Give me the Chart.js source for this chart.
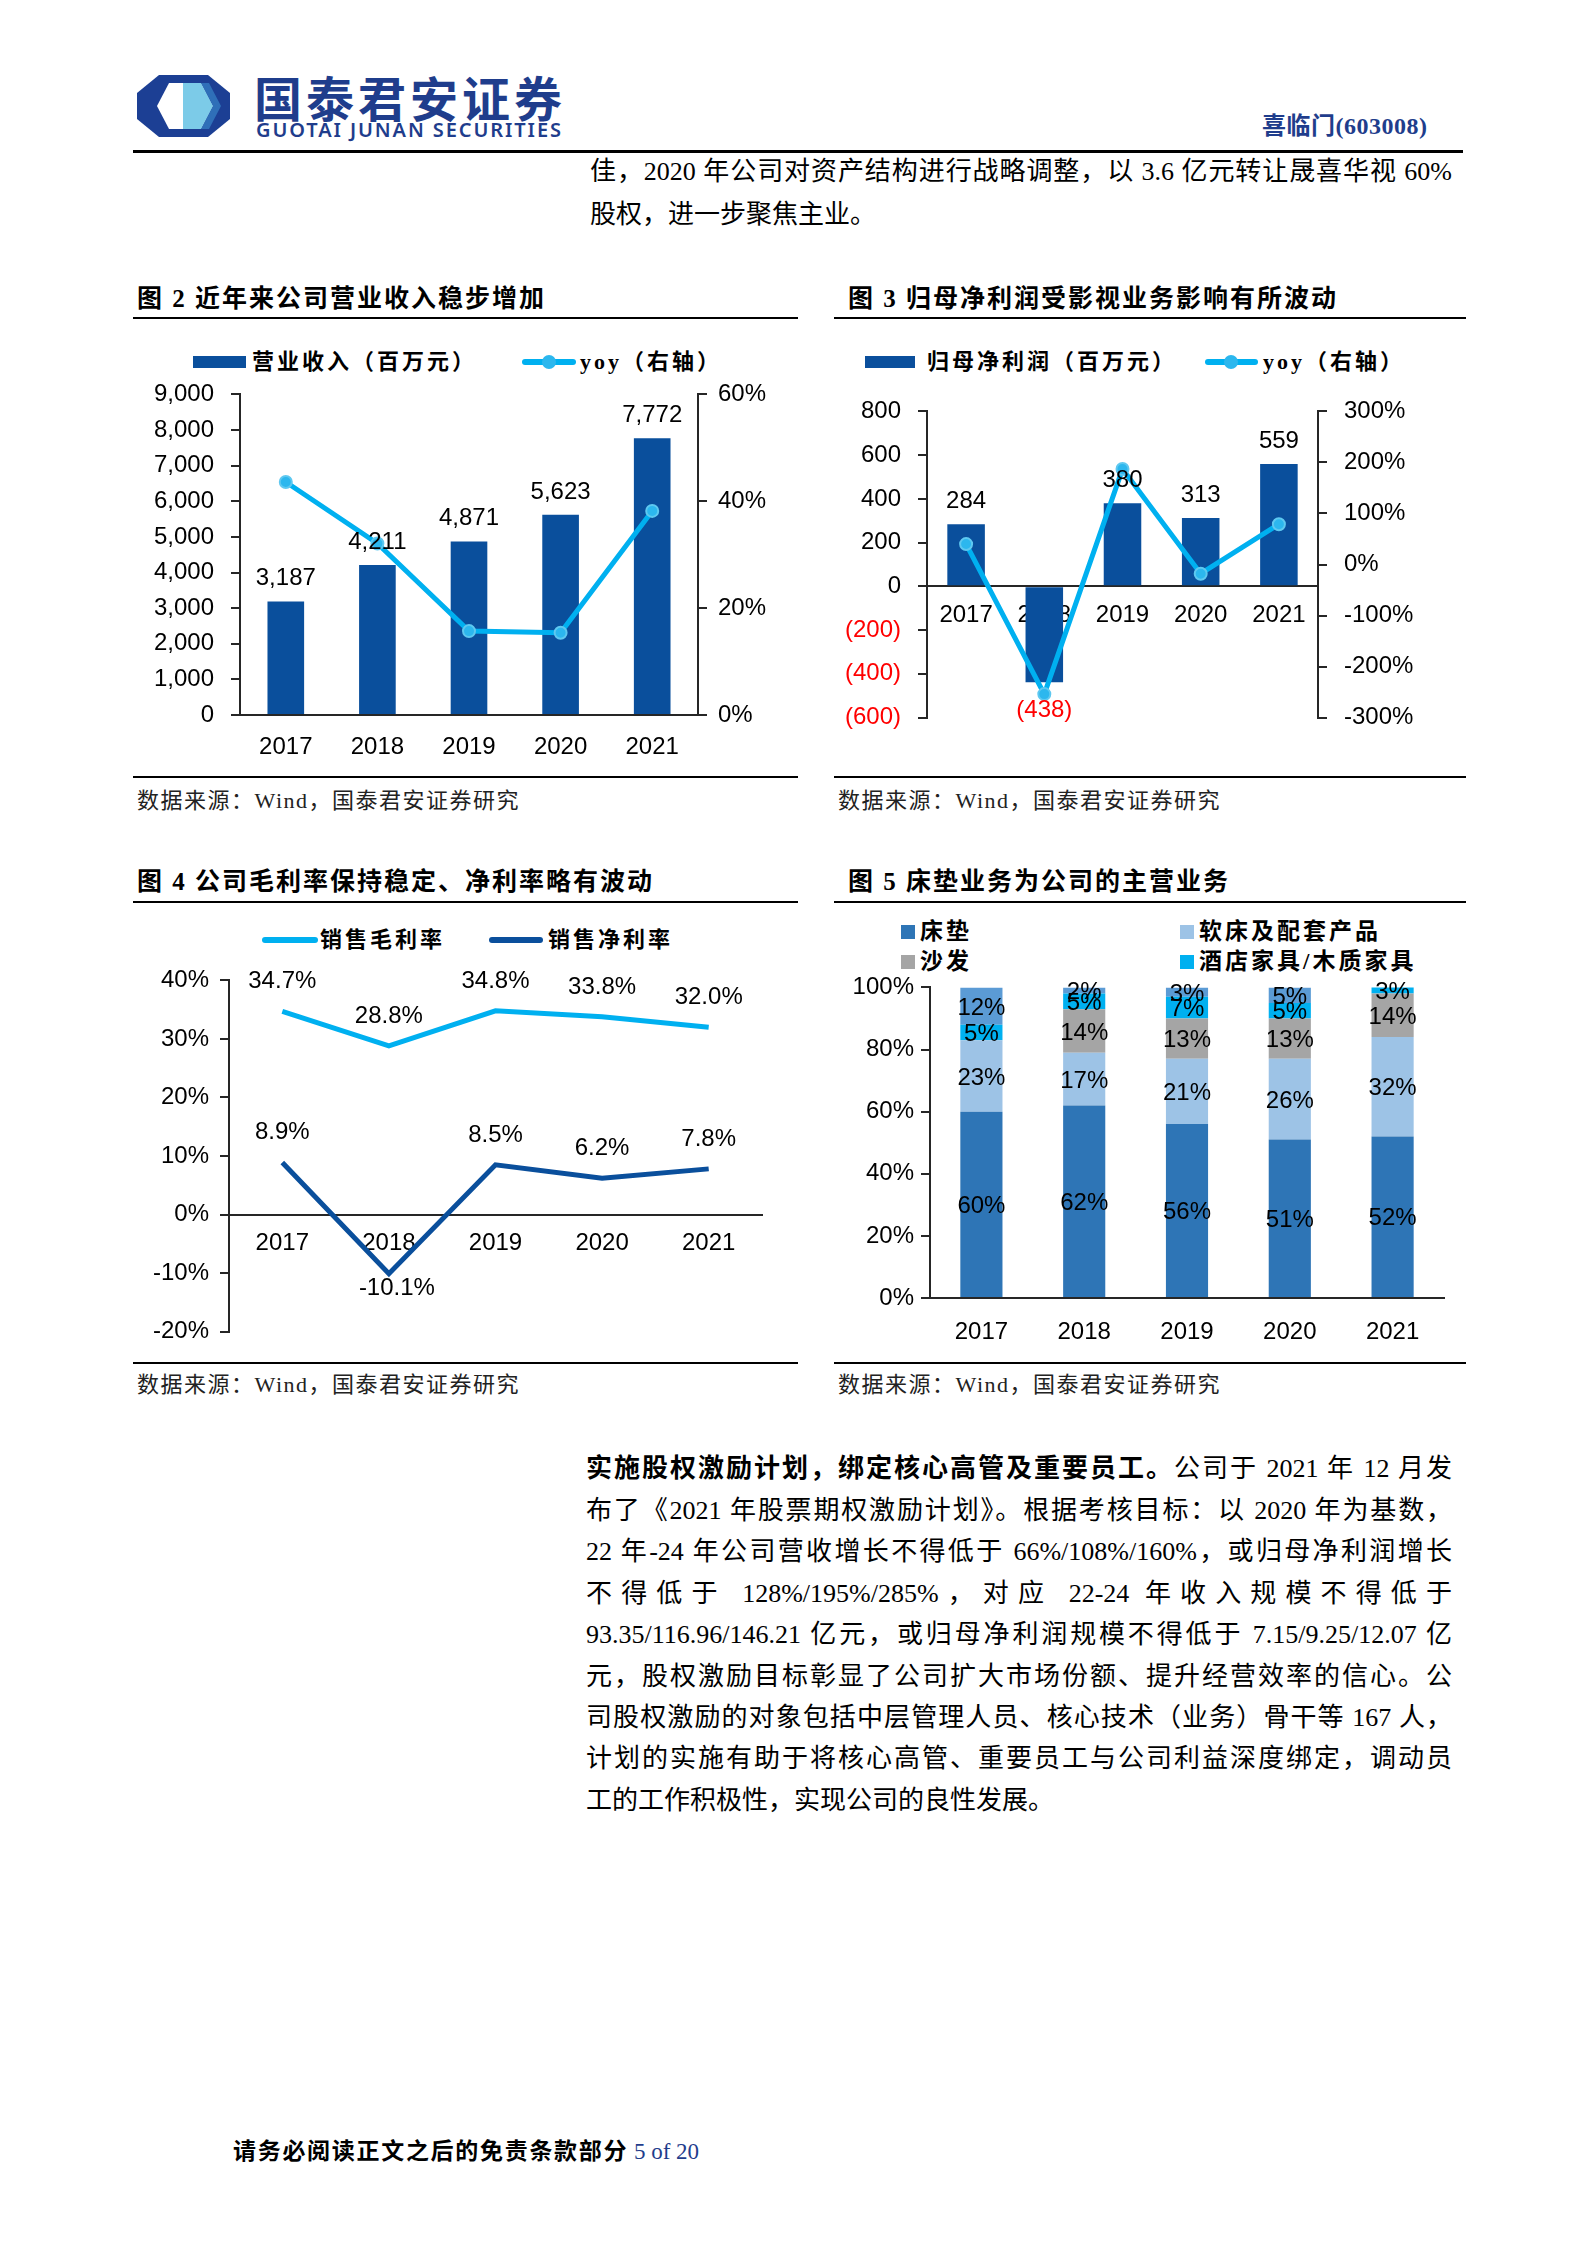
<!DOCTYPE html>
<html>
<head>
<meta charset="utf-8">
<script src="https://cdn.jsdelivr.net/npm/chart.js@4.4.0/dist/chart.umd.min.js"></script>
<style>
body { margin: 0; background: #fff; }
#page { position: relative; width: 1587px; height: 2245px; overflow: hidden; font-family: "Liberation Serif", "Noto Sans CJK SC", serif; color: #000; }
.abs { position: absolute; white-space: nowrap; }
.rule { position: absolute; background: #000; }
.ttl { font-family: "Liberation Serif", "Noto Sans CJK SC"; font-weight: 700; font-size: 25px; letter-spacing: 2px; line-height: 30px; }
.src { font-size: 22px; letter-spacing: 1.5px; color: #222; line-height: 26px; }
.lg { font-family: "Liberation Serif", "Noto Sans CJK SC"; font-weight: 700; font-size: 22px; letter-spacing: 3px; line-height: 30px; }
.sw-bar { position: absolute; height: 12px; background: #0a4f9c; }
.sw-line { position: absolute; height: 6px; border-radius: 3px; }
.sw-dot { position: absolute; width: 14px; height: 14px; border-radius: 7px; background: #2cb7ee; }
.sq { position: absolute; width: 14px; height: 14px; }
.txt { position: absolute; left: 586px; width: 866px; font-size: 26px; line-height: 34px; white-space: nowrap; }
.j { text-align: justify; text-align-last: justify; white-space: normal; }
canvas { position: absolute; }
</style>
</head>
<body>
<div id="page">
  <!-- header -->
  <svg class="abs" style="left:137px;top:75px" width="93" height="62" viewBox="0 0 93 62">
    <polygon points="22,0 71,0 93,18 93,44 71,62 22,62 0,44 0,18" fill="#1c3f94"/>
    <polygon points="32,8 64,8 76,31 64,54 32,54 20,31" fill="#ffffff"/>
    <polygon points="46,8 64,8 76,31 64,54 46,54" fill="#7ccbe8"/>
    <polygon points="64,8 72,8 84,31 72,54 64,54 76,31" fill="#2f6fb8"/>
  </svg>
  <div class="abs" style="left:254px;top:68px;font-family:'Noto Sans CJK SC';font-weight:700;font-size:48px;letter-spacing:4px;line-height:56px;color:#1f3d8c">国泰君安证券</div>
  <div class="abs" style="left:256px;top:119px;font-family:'Noto Sans','Liberation Sans';font-weight:600;font-size:20px;letter-spacing:1.9px;line-height:22px;color:#1f3d8c">GUOTAI JUNAN SECURITIES</div>
  <div class="abs" style="left:1262px;top:112px;font-family:'Liberation Serif','Noto Sans CJK SC';font-weight:700;font-size:24px;letter-spacing:0.5px;line-height:28px;color:#1f3d8c">喜临门(603008)</div>
  <div class="rule" style="left:133px;top:150px;width:1330px;height:3px"></div>

  <div class="txt j" style="top:155px;left:590px;width:862px">佳，2020 年公司对资产结构进行战略调整，以 3.6 亿元转让晟喜华视 60%</div>
  <div class="txt" style="top:198px;left:590px">股权，进一步聚焦主业。</div>

  <!-- chart 2 frame -->
  <div class="abs ttl" style="left:137px;top:284px">图 2 近年来公司营业收入稳步增加</div>
  <div class="rule" style="left:133px;top:317px;width:665px;height:2px"></div>
  <div class="sw-bar" style="left:193px;top:356px;width:53px"></div>
  <div class="abs lg" style="left:252px;top:347px">营业收入（百万元）</div>
  <div class="sw-line" style="left:522px;top:359px;width:54px;background:#00b0f0"></div>
  <div class="sw-dot" style="left:542px;top:355px"></div>
  <div class="abs lg" style="left:580px;top:347px">yoy（右轴）</div>
  <canvas id="c2" width="650" height="402" style="left:140px;top:363px"></canvas>
  <div class="rule" style="left:133px;top:776px;width:665px;height:2px"></div>
  <div class="abs src" style="left:137px;top:788px">数据来源：Wind，国泰君安证券研究</div>

  <!-- chart 3 frame -->
  <div class="abs ttl" style="left:848px;top:284px">图 3 归母净利润受影视业务影响有所波动</div>
  <div class="rule" style="left:834px;top:317px;width:632px;height:2px"></div>
  <div class="sw-bar" style="left:865px;top:356px;width:50px"></div>
  <div class="abs lg" style="left:927px;top:347px">归母净利润（百万元）</div>
  <div class="sw-line" style="left:1205px;top:359px;width:53px;background:#00b0f0"></div>
  <div class="sw-dot" style="left:1224px;top:355px"></div>
  <div class="abs lg" style="left:1263px;top:347px">yoy（右轴）</div>
  <canvas id="c3" width="590" height="369" style="left:830px;top:380px"></canvas>
  <div class="rule" style="left:834px;top:776px;width:632px;height:2px"></div>
  <div class="abs src" style="left:838px;top:788px">数据来源：Wind，国泰君安证券研究</div>

  <!-- chart 4 frame -->
  <div class="abs ttl" style="left:137px;top:867px">图 4 公司毛利率保持稳定、净利率略有波动</div>
  <div class="rule" style="left:133px;top:901px;width:665px;height:2px"></div>
  <div class="sw-line" style="left:262px;top:937px;width:56px;background:#00b0f0"></div>
  <div class="abs lg" style="left:320px;top:925px">销售毛利率</div>
  <div class="sw-line" style="left:489px;top:937px;width:54px;background:#0a4f9c"></div>
  <div class="abs lg" style="left:548px;top:925px">销售净利率</div>
  <canvas id="c4" width="645" height="402" style="left:130px;top:955px"></canvas>
  <div class="rule" style="left:133px;top:1362px;width:665px;height:2px"></div>
  <div class="abs src" style="left:137px;top:1372px">数据来源：Wind，国泰君安证券研究</div>

  <!-- chart 5 frame -->
  <div class="abs ttl" style="left:848px;top:867px">图 5 床垫业务为公司的主营业务</div>
  <div class="rule" style="left:834px;top:901px;width:632px;height:2px"></div>
  <div id="lg5"></div>
  <canvas id="c5" width="630" height="382" style="left:830px;top:966px"></canvas>
  <div class="rule" style="left:834px;top:1362px;width:632px;height:2px"></div>
  <div class="abs src" style="left:838px;top:1372px">数据来源：Wind，国泰君安证券研究</div>

  <!-- body text -->
  <div class="txt j" style="top:1452px"><b>实施股权激励计划，绑定核心高管及重要员工。</b>公司于 2021 年 12 月发</div>
  <div class="txt j" style="top:1494px">布了《2021 年股票期权激励计划》。根据考核目标：以 2020 年为基数，</div>
  <div class="txt j" style="top:1535px">22 年-24 年公司营收增长不得低于 66%/108%/160%，或归母净利润增长</div>
  <div class="txt j" style="top:1577px">不得低于 128%/195%/285%，对应 22-24 年收入规模不得低于</div>
  <div class="txt j" style="top:1618px">93.35/116.96/146.21 亿元，或归母净利润规模不得低于 7.15/9.25/12.07 亿</div>
  <div class="txt j" style="top:1660px">元，股权激励目标彰显了公司扩大市场份额、提升经营效率的信心。公</div>
  <div class="txt j" style="top:1701px">司股权激励的对象包括中层管理人员、核心技术（业务）骨干等 167 人，</div>
  <div class="txt j" style="top:1742px">计划的实施有助于将核心高管、重要员工与公司利益深度绑定，调动员</div>
  <div class="txt" style="top:1784px">工的工作积极性，实现公司的良性发展。</div>

  <!-- footer -->
  <div class="abs" style="left:233px;top:2135px;font-size:23px;line-height:28px"><b style="font-family:'Noto Sans CJK SC';letter-spacing:1.7px">请务必阅读正文之后的免责条款部分</b> <span style="color:#1f3d8c;font-family:'Liberation Serif'">5 of 20</span></div>
</div>

<script>
// ---- data ----
const years = ['2017', '2018', '2019', '2020', '2021'];

const revenue = [3187, 4211, 4871, 5623, 7772];
const revenueYoy = [43.6, 32.1, 15.7, 15.4, 38.2];

const netProfit = [284, -438, 380, 313, 559];
const netProfitYoy = [40, -254, 187, -18, 79];

const grossMargin = [34.7, 28.8, 34.8, 33.8, 32.0];
const netMargin = [8.9, -10.1, 8.5, 6.2, 7.8];

const segNames = ['床垫', '软床及配套产品', '沙发', '酒店家具/木质家具', '其他'];
const mattress = [60, 62, 56, 51, 52];
const softBed = [23, 17, 21, 26, 32];
const sofa = [0, 14, 13, 13, 14];
const hotel = [5, 5, 7, 5, 3];
const others = [12, 2, 3, 5, 0];

// ---- styles ----
const DARK = '#0a4f9c';
const LIGHT = '#00b0f0';
const AXIS = '#262626';
const segColors = ['#2e75b6', '#9dc3e6', '#a5a5a5', '#00b0f0', '#5b9bd5'];

Chart.defaults.font.family = '"Liberation Sans", Arial, sans-serif';
Chart.defaults.font.size = 24;
Chart.defaults.color = '#000';
Chart.defaults.animation = false;
Chart.defaults.plugins.legend.display = false;
Chart.defaults.plugins.tooltip.enabled = false;

function yAxis(pos, width, min, max, step, pad, fmt, color) {
    return {
        position: pos,
        min: min,
        max: max,
        afterFit: s => { s.width = width; },
        ticks: { stepSize: step, padding: pad, callback: fmt, color: color || '#000' },
        grid: { drawOnChartArea: false, drawTicks: true, tickLength: 9, color: AXIS, lineWidth: 2 },
        border: { display: true, color: AXIS, width: 2 }
    };
}

function xAxis(extra) {
    return Object.assign({
        grid: { display: false },
        border: { display: true, color: AXIS, width: 2 }
    }, extra);
}

function labelPlugin(id, draw) {
    return {
        id: id,
        afterDatasetsDraw(chart) {
            const ctx = chart.ctx;
            ctx.save();
            ctx.font = '24px "Liberation Sans", Arial, sans-serif';
            ctx.textAlign = 'center';
            ctx.fillStyle = '#000';
            draw(chart, ctx);
            ctx.restore();
        }
    };
}

const fmtThousands = v => v.toLocaleString('en-US');
const fmtPct = v => v + '%';

// Figure 2: revenue
new Chart(document.getElementById('c2'), {
    data: {
        labels: years,
        datasets: [{
            type: 'line',
            label: 'yoy（右轴）',
            data: revenueYoy,
            yAxisID: 'y1',
            borderColor: LIGHT,
            borderWidth: 5,
            pointRadius: 6,
            pointBackgroundColor: '#2cb7ee',
            pointBorderColor: '#5ec8f0',
            pointBorderWidth: 2,
            order: 0
        }, {
            type: 'bar',
            label: '营业收入（百万元）',
            data: revenue,
            yAxisID: 'y',
            backgroundColor: DARK,
            barPercentage: 0.4,
            categoryPercentage: 1,
            order: 1
        }]
    },
    options: {
        responsive: false,
        layout: { padding: { top: 12 } },
        scales: {
            x: xAxis({ ticks: { padding: 10 }, afterFit: s => { s.height = 50; } }),
            y: yAxis('left', 100, 0, 9000, 1000, 17, fmtThousands),
            y1: yAxis('right', 92, 0, 60, 20, 11, fmtPct)
        }
    },
    plugins: [labelPlugin('barLabels2', (chart, ctx) => {
        chart.getDatasetMeta(1).data.forEach((el, i) => {
            ctx.fillText(fmtThousands(revenue[i]), el.x, el.y - 16);
        });
    })]
});

// Figure 3: net profit
new Chart(document.getElementById('c3'), {
    data: {
        labels: years,
        datasets: [{
            type: 'line',
            label: 'yoy（右轴）',
            data: netProfitYoy,
            yAxisID: 'y1',
            borderColor: LIGHT,
            borderWidth: 5,
            pointRadius: 6,
            pointBackgroundColor: '#2cb7ee',
            pointBorderColor: '#5ec8f0',
            pointBorderWidth: 2,
            order: 0
        }, {
            type: 'bar',
            label: '归母净利润（百万元）',
            data: netProfit,
            yAxisID: 'y',
            backgroundColor: DARK,
            barPercentage: 0.48,
            categoryPercentage: 1,
            order: 1
        }]
    },
    options: {
        responsive: false,
        layout: { padding: { top: 12, bottom: 10 } },
        scales: {
            x: xAxis({ position: { y: 0 }, z: 1, ticks: { padding: 7 } }),
            y: yAxis('left', 97, -600, 800, 200, 17,
                v => v < 0 ? '(' + Math.abs(v) + ')' : String(v),
                c => c.tick.value < 0 ? '#ff0000' : '#000'),
            y1: yAxis('right', 102, -300, 300, 100, 17, fmtPct)
        }
    },
    plugins: [labelPlugin('barLabels3', (chart, ctx) => {
        chart.getDatasetMeta(1).data.forEach((el, i) => {
            const v = netProfit[i];
            if (v < 0) {
                ctx.fillStyle = '#ff0000';
                ctx.fillText('(' + Math.abs(v) + ')', el.x, el.y + 35);
            } else {
                ctx.fillStyle = '#000';
                ctx.fillText(String(v), el.x, el.y - 16);
            }
        });
    })]
});

// Figure 4: margins
new Chart(document.getElementById('c4'), {
    type: 'line',
    data: {
        labels: years,
        datasets: [{
            label: '销售毛利率',
            data: grossMargin,
            borderColor: LIGHT,
            borderWidth: 5,
            pointRadius: 0
        }, {
            label: '销售净利率',
            data: netMargin,
            borderColor: DARK,
            borderWidth: 5,
            pointRadius: 0
        }]
    },
    options: {
        responsive: false,
        layout: { padding: { top: 12, bottom: 10, right: 13 } },
        scales: {
            x: xAxis({ position: { y: 0 }, offset: true, ticks: { padding: 6 } }),
            y: yAxis('left', 99, -20, 40, 10, 11, fmtPct)
        }
    },
    plugins: [labelPlugin('lineLabels4', (chart, ctx) => {
        [grossMargin, netMargin].forEach((series, d) => {
            chart.getDatasetMeta(d).data.forEach((pt, i) => {
                const txt = series[i].toFixed(1) + '%';
                if (series[i] < 0) ctx.fillText(txt, pt.x + 8, pt.y + 21);
                else ctx.fillText(txt, pt.x, pt.y - 23);
            });
        });
    })]
});

// Figure 5: business mix
const segSeries = [mattress, softBed, sofa, hotel, others];
const lg5 = document.getElementById('lg5');
const lgPos = [[901, 932], [1180, 932], [901, 962], [1180, 962]];
lgPos.forEach((p, i) => {
    const sq = document.createElement('div');
    sq.className = 'sq';
    sq.style.cssText = 'left:' + p[0] + 'px;top:' + (p[1] - 7) + 'px;background:' + segColors[i];
    lg5.appendChild(sq);
    const t = document.createElement('div');
    t.className = 'abs lg';
    t.style.cssText = 'left:' + (p[0] + 19) + 'px;top:' + (p[1] - 15) + 'px;font-size:23px';
    t.textContent = segNames[i];
    lg5.appendChild(t);
});

new Chart(document.getElementById('c5'), {
    type: 'bar',
    data: {
        labels: years,
        datasets: segSeries.map((s, i) => ({
            label: segNames[i],
            data: s,
            backgroundColor: segColors[i],
            barPercentage: 0.41,
            categoryPercentage: 1
        }))
    },
    options: {
        responsive: false,
        layout: { padding: { top: 10, right: 16 } },
        scales: {
            x: xAxis({ stacked: true, ticks: { padding: 12 }, afterFit: s => { s.height = 50; } }),
            y: Object.assign(yAxis('left', 100, 0, 100, 20, 7, fmtPct), { stacked: true })
        }
    },
    plugins: [labelPlugin('segLabels5', (chart, ctx) => {
        ctx.textBaseline = 'middle';
        segSeries.forEach((s, d) => {
            chart.getDatasetMeta(d).data.forEach((el, i) => {
                if (!s[i]) return;
                const top = Math.max(el.y, chart.chartArea.top);
                ctx.fillText(s[i] + '%', el.x, (top + el.base) / 2 + 2);
            });
        });
    })]
});
</script>
</body>
</html>
